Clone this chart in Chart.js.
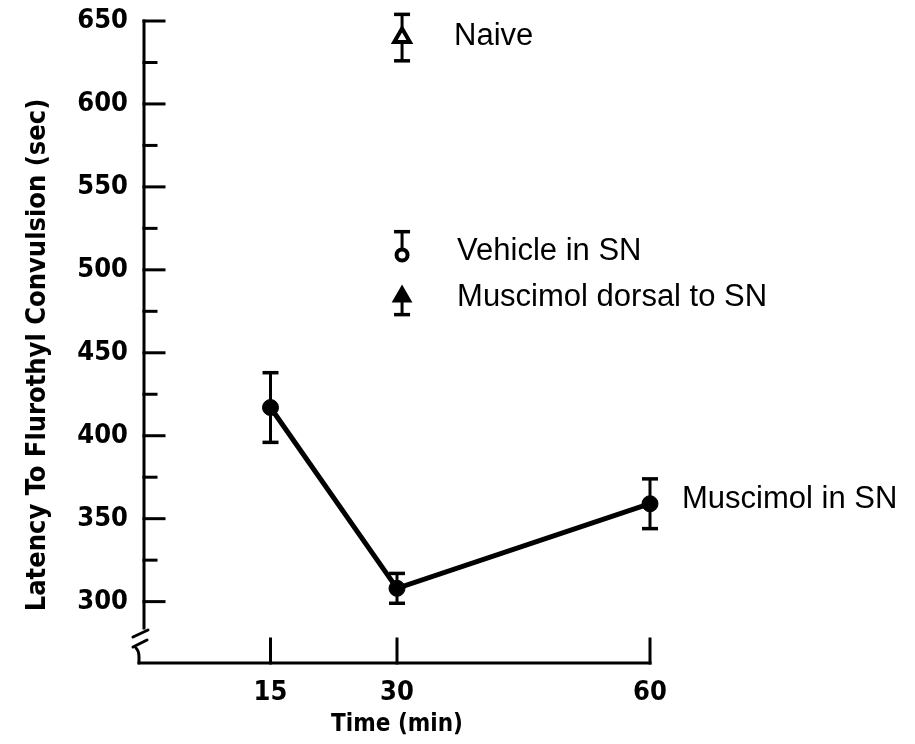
<!DOCTYPE html>
<html><head><meta charset="utf-8">
<script src="https://cdn.jsdelivr.net/npm/chart.js@4"></script>
<style>html,body{margin:0;padding:0;background:#fff}</style>
</head><body>
<canvas id="c" width="915" height="744"></canvas>
<script>
// ---- data ----
const timePoints = [15, 30, 60];
const muscimolSN = [417, 308, 359];
const muscimolSNErr = [21, 9, 15];
const sideTime = [30.6];
const naive = [640];
const naiveErrUp = [14];
const naiveErrDown = [14];
const vehicleSN = [509];
const vehicleErrUp = [14];
const vehicleErrDown = [0];
const dorsalSN = [484];
const dorsalErrUp = [0];
const dorsalErrDown = [11];
const xTickValues = [15, 30, 60];
const yTickValues = [300, 350, 400, 450, 500, 550, 600, 650];
const yMinorValues = [325, 375, 425, 475, 525, 575, 625];
const seriesNames = ['Muscimol in SN', 'Naive', 'Vehicle in SN', 'Muscimol dorsal to SN'];
const xTitle = 'Time (min)';
const yTitle = 'Latency To Flurothyl Convulsion (sec)';

const AX_FONT = "'DejaVu Sans Condensed', 'DejaVu Sans', sans-serif";
const LBL_FONT = "'Liberation Sans', Arial, sans-serif";

const toXY = (xs, ys) => ys.map((y, i) => ({x: xs[i], y}));

const datasets = [
  { label: seriesNames[0], data: toXY(timePoints, muscimolSN),
    errUp: muscimolSNErr, errDown: muscimolSNErr,
    borderColor: '#000', borderWidth: 5, backgroundColor: '#000',
    pointStyle: 'circle', pointRadius: 8, pointBorderWidth: 1, pointBackgroundColor: '#000',
    showLine: true, tension: 0, labelDx: 32, labelDy: -4 },
  { label: seriesNames[1], data: toXY(sideTime, naive),
    errUp: naiveErrUp, errDown: naiveErrDown,
    borderColor: '#000', backgroundColor: '#fff', showLine: false,
    pointStyle: 'triangle', pointRadius: 9, pointBorderWidth: 4, pointBackgroundColor: '#fff',
    labelDx: 52, labelDy: -1 },
  { label: seriesNames[2], data: toXY(sideTime, vehicleSN),
    errUp: vehicleErrUp, errDown: vehicleErrDown,
    borderColor: '#000', backgroundColor: '#fff', showLine: false,
    pointStyle: 'circle', pointRadius: 5.5, pointBorderWidth: 4, pointBackgroundColor: '#fff',
    labelDx: 55, labelDy: -3 },
  { label: seriesNames[3], data: toXY(sideTime, dorsalSN),
    errUp: dorsalErrUp, errDown: dorsalErrDown,
    borderColor: '#000', backgroundColor: '#000', showLine: false,
    pointStyle: 'triangle', pointRadius: 10, pointBorderWidth: 2, pointBackgroundColor: '#000',
    labelDx: 55, labelDy: 1 }
];

const framePlugin = {
  id: 'frame',
  beforeDatasetsDraw(chart) {
    const ctx = chart.ctx, xs = chart.scales.x, ys = chart.scales.y;
    ctx.save();
    ctx.strokeStyle = '#000'; ctx.lineCap = 'butt';
    chart.data.datasets.forEach(ds => {
      ds.data.forEach((p, j) => {
        const px = xs.getPixelForValue(p.x);
        const yc = ys.getPixelForValue(p.y);
        const cap = 8;
        [[ds.errUp[j], 1], [ds.errDown[j], -1]].forEach(([e, sgn]) => {
          if (e > 0) {
            const ye = ys.getPixelForValue(p.y + sgn * e);
            ctx.lineWidth = 3;
            ctx.beginPath(); ctx.moveTo(px, yc); ctx.lineTo(px, ye); ctx.stroke();
            ctx.lineWidth = 3.5;
            ctx.beginPath(); ctx.moveTo(px - cap, ye); ctx.lineTo(px + cap, ye); ctx.stroke();
          }
        });
      });
    });
    ctx.restore();
  },
  afterDraw(chart) {
    const ctx = chart.ctx, xs = chart.scales.x, ys = chart.scales.y;
    const a = chart.chartArea;
    ctx.save();
    ctx.strokeStyle = '#000'; ctx.lineWidth = 3; ctx.lineCap = 'square';
    const ax = a.left, b = a.bottom;
    // y axis upper part
    ctx.beginPath();
    ctx.moveTo(ax, ys.getPixelForValue(650));
    ctx.lineTo(ax, b - 35);
    ctx.stroke();
    // break marks
    ctx.lineCap = 'round';
    ctx.beginPath();
    ctx.moveTo(ax - 11, b - 26); ctx.lineTo(ax + 4, b - 33);
    ctx.moveTo(ax - 11, b - 16); ctx.lineTo(ax + 3, b - 23);
    ctx.moveTo(ax - 8, b - 15);
    ctx.quadraticCurveTo(ax - 5, b - 12, ax - 5, b - 6);
    ctx.lineTo(ax - 5, b);
    ctx.stroke();
    ctx.lineCap = 'square';
    // x axis
    ctx.beginPath();
    ctx.moveTo(ax - 5, b); ctx.lineTo(a.right, b);
    ctx.stroke();
    // y ticks (inside)
    yTickValues.forEach(v => {
      const y = ys.getPixelForValue(v);
      ctx.beginPath(); ctx.moveTo(ax, y); ctx.lineTo(ax + 20, y); ctx.stroke();
    });
    yMinorValues.forEach(v => {
      const y = ys.getPixelForValue(v);
      ctx.beginPath(); ctx.moveTo(ax, y); ctx.lineTo(ax + 12, y); ctx.stroke();
    });
    // x ticks (inside)
    xTickValues.forEach(v => {
      const x = xs.getPixelForValue(v);
      ctx.beginPath(); ctx.moveTo(x, b); ctx.lineTo(x, b - 24); ctx.stroke();
    });
    // y axis title
    ctx.fillStyle = '#000';
    ctx.save();
    ctx.translate(38, (a.top + b) / 2 + 13);
    ctx.rotate(-Math.PI / 2);
    ctx.font = 'bold 27px ' + AX_FONT;
    ctx.textAlign = 'center'; ctx.textBaseline = 'middle';
    ctx.fillText(yTitle, 0, 0);
    ctx.restore();
    // series labels
    ctx.font = '31px ' + LBL_FONT;
    ctx.textBaseline = 'middle'; ctx.textAlign = 'left';
    chart.data.datasets.forEach(ds => {
      const p = ds.data[ds.data.length - 1];
      ctx.fillText(ds.label, xs.getPixelForValue(p.x) + ds.labelDx, ys.getPixelForValue(p.y) + ds.labelDy);
    });
    ctx.restore();
  }
};

new Chart(document.getElementById('c'), {
  type: 'line',
  data: { datasets },
  options: {
    responsive: false, animation: false, devicePixelRatio: 1,
    layout: { padding: { left: 0, right: 265, top: 21, bottom: 0 } },
    plugins: { legend: { display: false }, tooltip: { enabled: false } },
    elements: { point: { borderColor: '#000' } },
    clip: false,
    scales: {
      x: {
        type: 'linear', min: 0, max: 60,
        afterBuildTicks: s => { s.ticks = xTickValues.map(v => ({value: v})); },
        afterFit: s => { s.height = 81; s.paddingLeft = 0; s.paddingRight = 0; },
        grid: { display: false, drawTicks: false },
        border: { display: false },
        ticks: { color: '#000', padding: 14, maxRotation: 0, autoSkip: false,
                 font: { family: AX_FONT, weight: 'bold', size: 27 } },
        title: { display: true, text: xTitle, color: '#000',
                 font: { family: AX_FONT, weight: 'bold', size: 24 }, padding: { top: 0, bottom: 5 } }
      },
      y: {
        type: 'linear', min: 263, max: 650,
        afterBuildTicks: s => { s.ticks = yTickValues.map(v => ({value: v})); },
        afterFit: s => { s.width = 144; s.paddingTop = 0; s.paddingBottom = 0; },
        grid: { display: false, drawTicks: false },
        border: { display: false },
        ticks: { color: '#000', padding: 16, autoSkip: false,
                 font: { family: AX_FONT, weight: 'bold', size: 27 } },
        title: { display: false, text: yTitle }
      }
    }
  },
  plugins: [framePlugin]
});
</script>
</body></html>
